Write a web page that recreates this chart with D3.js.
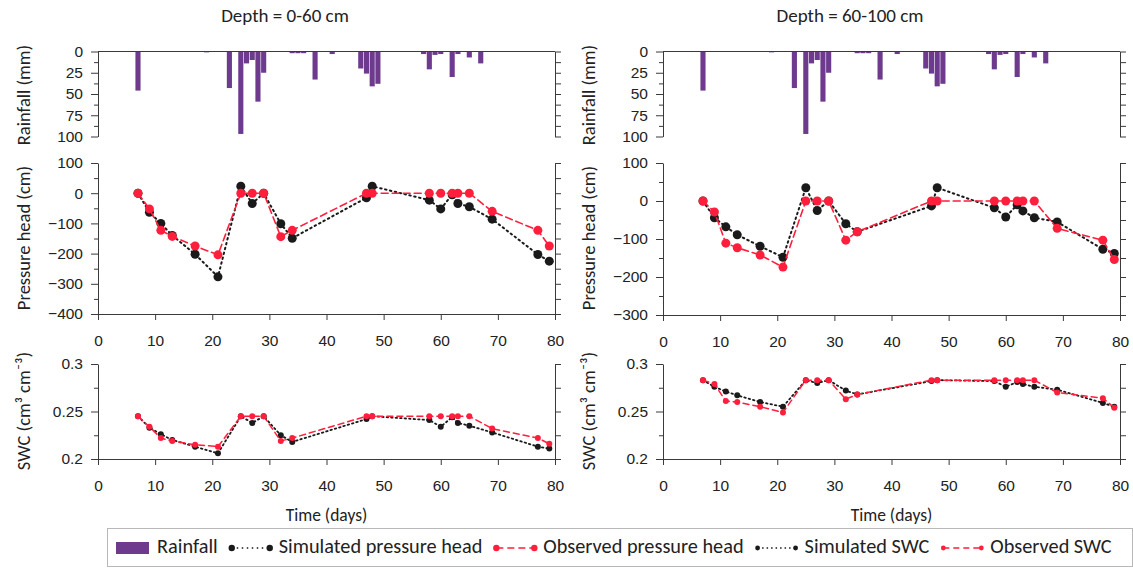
<!DOCTYPE html>
<html>
<head>
<meta charset="utf-8">
<script src="https://cdn.jsdelivr.net/npm/d3@7"></script>
<style>
  body { margin: 0; background: #fff; }
  svg { font-family: Carlito, Lato, "Open Sans", sans-serif; }
</style>
</head>
<body>
<script>
// sampling days, shared by every series
const days = [7, 9, 11, 13, 17, 21, 25, 27, 29, 32, 34, 47, 48, 58, 60, 62, 63, 65, 69, 77, 79]

// daily rainfall (mm)
const rainDays = [7, 19, 23, 25, 26, 27, 28, 29, 34, 35, 36, 38, 41, 46, 47, 48, 49, 57, 58, 59, 60, 62, 63, 65, 67]
const rainMm = [46, 1, 43, 97, 14, 10, 59, 25, 2, 2, 2, 33, 3, 20, 26, 41, 38, 3, 21, 4, 3, 30, 3, 7, 14]

// depth 0-60 cm
const obsHead60 = [0, -52, -123, -143, -175, -204, 0, 0, 0, -144, -123, 0, 0, 0, 0, 0, 0, 0, -60, -123, -175]
const simHead60 = [0, -63, -100, -140, -202, -277, 23, -34, 0, -101, -149, -15, 23, -23, -52, -5, -34, -45, -86, -203, -225]
const obsSwc60 = [0.245, 0.234, 0.222, 0.219, 0.215, 0.213, 0.245, 0.245, 0.245, 0.219, 0.222, 0.245, 0.245, 0.245, 0.245, 0.245, 0.245, 0.245, 0.232, 0.222, 0.216]
const simSwc60 = [0.245, 0.233, 0.226, 0.220, 0.213, 0.206, 0.245, 0.238, 0.245, 0.225, 0.218, 0.242, 0.245, 0.241, 0.234, 0.244, 0.238, 0.235, 0.228, 0.213, 0.211]

// depth 60-100 cm
const obsHead100 = [0, -29, -111, -123, -142, -174, 0, 0, 0, -103, -81, 0, 0, 0, 0, 0, 0, 0, -72, -103, -154]
const simHead100 = [0, -44, -68, -89, -119, -148, 35, -25, 0, -60, -81, -13, 35, -18, -42, -10, -26, -44, -55, -127, -138]
const obsSwc100 = [0.283, 0.279, 0.261, 0.260, 0.255, 0.249, 0.283, 0.283, 0.283, 0.263, 0.268, 0.283, 0.283, 0.283, 0.283, 0.283, 0.283, 0.283, 0.270, 0.264, 0.254]
const simSwc100 = [0.283, 0.276, 0.271, 0.267, 0.260, 0.255, 0.283, 0.280, 0.283, 0.272, 0.268, 0.282, 0.283, 0.282, 0.276, 0.281, 0.279, 0.276, 0.273, 0.259, 0.255]

const rainColor = '#6d3a8e'
const obsColor = '#ff1e3c'
const simColor = '#1a1a1a'
const axisColor = '#3a3a3a'

const W = 1133, H = 570
const plotW = 457

const svg = d3.select('body')
  .append('svg')
  .attr('width', W)
  .attr('height', H)

const panels = [
  { left: 98, title: 'Depth = 0-60 cm', headDomain: [-400, 100], headBottom: 314,
    obsHead: obsHead60, simHead: simHead60, obsSwc: obsSwc60, simSwc: simSwc60 },
  { left: 663, title: 'Depth = 60-100 cm', headDomain: [-300, 100], headBottom: 315,
    obsHead: obsHead100, simHead: simHead100, obsSwc: obsSwc100, simSwc: simSwc100 }
]

function styleAxis(g) {
  g.selectAll('path, line').attr('stroke', axisColor)
  g.selectAll('text').attr('fill', '#222').attr('font-size', 15.5)
}

// left labelled axis + minor ticks + mirrored right axis
function yAxes(g, y, x0, x1, major, minor, fmt) {
  g.append('g')
    .attr('transform', `translate(${x0},0)`)
    .call(d3.axisLeft(y).tickValues(major).tickSize(7).tickSizeOuter(0).tickPadding(8).tickFormat(fmt))
    .call(styleAxis)
  g.append('g')
    .attr('transform', `translate(${x0},0)`)
    .call(d3.axisLeft(y).tickValues(minor).tickSize(4).tickFormat(''))
    .call(a => a.select('.domain').remove())
    .call(styleAxis)
  g.append('g')
    .attr('transform', `translate(${x1},0)`)
    .call(d3.axisRight(y).tickValues(major.concat(minor)).tickSize(6).tickSizeOuter(0).tickFormat(''))
    .call(styleAxis)
}

function yTitle(g, x, y, text) {
  g.append('text')
    .attr('transform', `translate(${x},${y}) rotate(-90)`)
    .attr('text-anchor', 'middle')
    .attr('dominant-baseline', 'middle')
    .attr('font-size', 18.5)
    .attr('fill', '#222')
    .text(text)
}

function series(g, x, y, vals, color, dash, width, r) {
  const pts = days.map((d, i) => [d, vals[i]])
  g.append('path')
    .datum(pts)
    .attr('fill', 'none')
    .attr('stroke', color)
    .attr('stroke-width', width)
    .attr('stroke-dasharray', dash)
    .attr('stroke-linecap', 'round')
    .attr('d', d3.line().x(d => x(d[0])).y(d => y(d[1])))
  g.selectAll(null)
    .data(pts)
    .join('circle')
    .attr('cx', d => x(d[0]))
    .attr('cy', d => y(d[1]))
    .attr('r', r)
    .attr('fill', color)
}

panels.forEach(p => {
  const g = svg.append('g')
  const x0 = p.left, x1 = p.left + plotW
  const x = d3.scaleLinear().domain([0, 80]).range([x0, x1])

  // title
  g.append('text')
    .attr('x', x0 + 187)
    .attr('y', 17)
    .attr('text-anchor', 'middle')
    .attr('dominant-baseline', 'middle')
    .attr('font-size', 19)
    .attr('fill', '#222')
    .text(p.title)

  // ---- rainfall (inverted)
  const yRain = d3.scaleLinear().domain([0, 100]).range([51.5, 136.5])
  const bw = x(1) - x(0) - 0.6
  g.selectAll(null)
    .data(rainDays.map((d, i) => ({ day: d, mm: rainMm[i] })))
    .join('rect')
    .attr('x', d => x(d.day) - bw / 2)
    .attr('y', yRain(0))
    .attr('width', bw)
    .attr('height', d => yRain(d.mm) - yRain(0))
    .attr('fill', rainColor)
  g.append('line')
    .attr('x1', x0).attr('x2', x1)
    .attr('y1', yRain(0)).attr('y2', yRain(0))
    .attr('stroke', axisColor)
  yAxes(g, yRain, x0, x1, [0, 25, 50, 75, 100], [12.5, 37.5, 62.5, 87.5], d3.format('d'))
  yTitle(g, x0 - 72, 95, 'Rainfall (mm)')

  // ---- pressure head
  const yHead = d3.scaleLinear().domain(p.headDomain).range([p.headBottom, 163])
  const headMajor = d3.range(p.headDomain[0], p.headDomain[1] + 1, 100)
  const headMinor = d3.range(p.headDomain[0] + 50, p.headDomain[1], 100)
  yAxes(g, yHead, x0, x1, headMajor, headMinor, d3.format('d'))
  g.append('g')
    .attr('transform', `translate(0,${p.headBottom})`)
    .call(d3.axisBottom(x).tickValues(d3.range(0, 81, 10)).tickSize(6).tickSizeOuter(0).tickPadding(15))
    .call(styleAxis)
  yTitle(g, x0 - 72, 238, 'Pressure head (cm)')
  series(g, x, yHead, p.simHead, simColor, '1.5,3.5', 2, 4.5)
  series(g, x, yHead, p.obsHead, obsColor, '7,4', 1.6, 4.5)

  // ---- soil water content
  const ySwc = d3.scaleLinear().domain([0.2, 0.3]).range([459, 364])
  yAxes(g, ySwc, x0, x1, [0.2, 0.25, 0.3], [0.225, 0.275], d => String(+d.toFixed(3)))
  g.append('g')
    .attr('transform', 'translate(0,459)')
    .call(d3.axisBottom(x).tickValues(d3.range(0, 81, 10)).tickSize(6).tickSizeOuter(0).tickPadding(15))
    .call(styleAxis)
  yTitle(g, x0 - 72, 411, 'SWC (cm³ cm⁻³)')
  series(g, x, ySwc, p.simSwc, simColor, '1.5,3', 1.8, 3)
  series(g, x, ySwc, p.obsSwc, obsColor, '6,4', 1.5, 3)

  g.append('text')
    .attr('x', (x0 + x1) / 2)
    .attr('y', 517)
    .attr('text-anchor', 'middle')
    .attr('dominant-baseline', 'middle')
    .attr('font-size', 17.5)
    .attr('fill', '#222')
    .text('Time (days)')
})

// ---- legend
const legendItems = [
  { label: 'Rainfall', kind: 'bar' },
  { label: 'Simulated pressure head', kind: 'line', color: simColor, dash: '1.5,3.5', r: 3.2 },
  { label: 'Observed pressure head', kind: 'line', color: obsColor, dash: '7,4', r: 3.2 },
  { label: 'Simulated SWC', kind: 'line', color: simColor, dash: '1.5,3', r: 2.4 },
  { label: 'Observed SWC', kind: 'line', color: obsColor, dash: '6,4', r: 2.4 }
]

svg.append('rect')
  .attr('x', 107.5).attr('y', 528.5)
  .attr('width', 1025).attr('height', 38)
  .attr('fill', '#fff')
  .attr('stroke', '#b8b8b8')

const lg = svg.append('g')
const ly = 548
let cx = 116
legendItems.forEach((it, i) => {
  if (it.kind === 'bar') {
    lg.append('rect')
      .attr('x', cx).attr('y', ly - 6)
      .attr('width', 33).attr('height', 12)
      .attr('fill', rainColor)
    cx += 33 + 8
  } else {
    const sx0 = cx + 3, sx1 = cx + 41
    lg.append('line')
      .attr('x1', sx0).attr('x2', sx1)
      .attr('y1', ly).attr('y2', ly)
      .attr('stroke', it.color)
      .attr('stroke-width', 1.6)
      .attr('stroke-dasharray', it.dash)
    lg.selectAll(null).data([sx0, sx1]).join('circle')
      .attr('cx', d => d).attr('cy', ly).attr('r', it.r)
      .attr('fill', it.color)
    cx += 44 + 6
  }
  const t = lg.append('text')
    .attr('x', cx)
    .attr('y', ly)
    .attr('dominant-baseline', 'middle')
    .attr('font-size', 20.3)
    .attr('fill', '#222')
    .text(it.label)
  cx += t.node().getComputedTextLength() + 11
})
</script>
</body>
</html>
